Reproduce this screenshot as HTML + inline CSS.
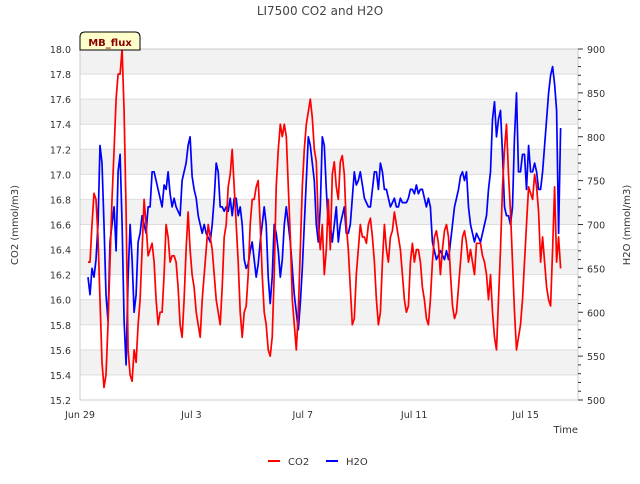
<!DOCTYPE html>
<html><head><meta charset="utf-8"><style>
body{margin:0;background:#fff;font-family:"DejaVu Sans","Liberation Sans",sans-serif}
svg text{font-family:"DejaVu Sans","Liberation Sans",sans-serif}
</style></head><body>
<svg id="chart" width="640" height="480" viewBox="0 0 640 480" xmlns="http://www.w3.org/2000/svg">
<text x="320" y="15" text-anchor="middle" font-size="12" fill="#444">LI7500 CO2 and H2O</text>
<g id="bands"></g>
<g id="grid"></g>
<rect x="80" y="49" width="498" height="351" fill="none" stroke="#ccc"/>
<g id="axes"></g>
<g id="series"></g>
<g>
<path d="M80,50 L80,37 Q80,32 85,32 L135,32 Q140,32 140,37 L140,50 Z" fill="#ffffcc" stroke="#000"/>
<text x="110" y="46" text-anchor="middle" font-size="10" font-weight="bold" fill="#8b0000">MB_flux</text>
</g>
<text transform="translate(18,225) rotate(-90)" text-anchor="middle" font-size="10" fill="#333">CO2 (mmol/m3)</text>
<text transform="translate(630,225) rotate(-90)" text-anchor="middle" font-size="10" fill="#333">H2O (mmol/m3)</text>
<text x="578" y="433" text-anchor="end" font-size="10" fill="#333">Time</text>
<g>
<line x1="268" y1="461" x2="280" y2="461" stroke="#f00" stroke-width="2"/>
<text x="288" y="465" font-size="10" fill="#333">CO2</text></g>
<g>
<line x1="326" y1="461" x2="338" y2="461" stroke="#00f" stroke-width="2"/>
<text x="346" y="465" font-size="10" fill="#333">H2O</text></g>
</svg>
<script>
const startDay = 0.288;
const stepDay = 0.0719;
const xTickLabels = ["Jun 29","Jul 3","Jul 7","Jul 11","Jul 15"];
const xTickDays = [0,4,8,12,16];
const co2Ticks = [15.2,15.4,15.6,15.8,16.0,16.2,16.4,16.6,16.8,17.0,17.2,17.4,17.6,17.8,18.0];
const h2oTicks = [500,550,600,650,700,750,800,850,900];
const co2Values = [16.3,16.3,16.6,16.85,16.8,16.5,16.0,15.5,15.3,15.4,15.8,16.3,16.8,17.2,17.6,17.8,17.8,18.0,17.5,16.7,15.6,15.4,15.35,15.6,15.5,15.8,16.0,16.4,16.8,16.6,16.35,16.4,16.45,16.3,16.0,15.8,15.9,15.9,16.2,16.6,16.5,16.3,16.35,16.35,16.3,16.1,
15.8,15.7,16.0,16.4,16.7,16.4,16.2,16.1,15.9,15.8,15.7,16.0,16.2,16.4,16.6,16.5,16.4,16.2,16.0,15.9,15.8,16.1,16.5,16.6,16.9,17.0,17.2,16.9,16.6,16.3,15.9,15.7,15.9,15.95,16.2,16.6,16.8,16.8,16.9,16.95,16.6,16.2,15.9,15.8,15.6,15.55,15.7,16.2,16.9,17.2,17.4,17.3,17.4,17.3,16.9,16.5,16.0,15.8,15.6,15.9,16.4,16.9,17.2,17.4,17.5,17.6,17.45,17.2,17.1,16.6,16.4,16.6,16.2,16.4,16.8,16.4,17.0,17.1,16.9,16.8,17.1,17.15,17.0,16.6,16.4,16.1,15.8,15.85,16.2,16.4,16.6,16.5,16.5,16.45,16.6,16.65,16.5,16.3,16.0,15.8,15.9,16.3,16.6,16.4,16.3,16.5,16.55,16.7,16.6,16.5,16.4,16.2,16.0,15.9,15.95,16.3,16.45,16.3,16.4,16.4,16.3,16.1,16.0,15.85,15.8,16.0,16.3,16.5,16.55,16.45,16.2,16.4,16.55,16.6,16.5,16.2,15.95,15.85,15.9,16.1,16.3,16.5,16.55,16.45,16.3,16.4,16.3,16.2,16.45,16.45,16.45,16.35,16.3,16.2,16.0,16.2,15.9,15.7,15.6,16.0,16.4,16.9,17.2,17.4,17.0,16.7,16.3,15.9,15.6,15.7,15.8,16.0,16.3,16.6,16.9,16.85,16.8,17.0,16.9,16.7,16.3,16.5,16.3,16.1,16.0,15.95,16.4,16.9,16.3,16.5,16.25];
const h2oValues = [640,620,650,640,660,700,790,770,700,620,590,680,700,720,670,760,780,700,590,540,640,700,660,600,620,680,690,710,700,690,720,720,760,760,750,740,730,720,745,740,760,735,720,730,720,715,710,750,760,770,790,800,755,740,730,710,700,690,700,690,685,680,700,730,770,760,720,720,715,720,715,730,710,730,730,710,720,700,660,650,655,670,680,660,640,655,680,700,720,700,640,610,640,700,690,670,640,660,700,720,700,680,650,620,600,580,610,650,700,750,800,790,770,750,700,680,720,800,790,740,700,700,680,700,720,680,700,710,720,690,690,700,730,760,745,750,760,745,730,725,720,720,740,760,760,740,770,760,740,740,730,720,725,730,720,720,730,725,725,725,730,740,740,735,745,735,740,740,730,720,730,720,680,670,660,665,670,665,660,670,660,680,700,720,730,740,755,760,750,760,720,700,690,680,690,685,680,690,700,710,740,760,820,840,800,820,830,780,720,710,710,700,720,800,850,760,760,780,780,740,790,760,760,770,760,740,740,760,790,820,850,870,880,860,830,690,810];

const NS="http://www.w3.org/2000/svg";
const X0=80,X1=578,YT=49,YB=400;
const pxPerDay=27.85;
function xScale(d){return X0+d*pxPerDay;}
function yCO2(v){return YB-(v-15.2)/(18.0-15.2)*(YB-YT);}
function yH2O(v){return YB-(v-500)/(900-500)*(YB-YT);}
function mk(tag,attrs,parent){const e=document.createElementNS(NS,tag);for(const k in attrs)e.setAttribute(k,attrs[k]);parent.appendChild(e);return e;}
const bands=document.getElementById('bands'),grid=document.getElementById('grid'),axes=document.getElementById('axes'),series=document.getElementById('series');
for(let i=0;i<co2Ticks.length-1;i++){
  if((co2Ticks.length-2-i)%2===0){
    const r=mk('rect',{x:X0,y:yCO2(co2Ticks[i+1]),width:X1-X0,height:yCO2(co2Ticks[i])-yCO2(co2Ticks[i+1]),fill:'#f2f2f2'},bands);
    
    
  }
}
co2Ticks.forEach(v=>{
  const y=yCO2(v);
  const l=mk('line',{x1:X0,x2:X1,y1:y,y2:y,stroke:'#ddd'},grid);
  
  
  const t=mk('text',{x:71,y:y+4,'text-anchor':'end','font-size':9.5,fill:'#333'},axes);
  t.textContent=v.toFixed(1);
  
  
});
for(let v=500;v<=900;v+=10){
  const y=yH2O(v);
  const l=mk('line',{x1:X1,x2:X1+(v%50===0?5:3),y1:y,y2:y,stroke:'#333'},axes);
  
  
}
h2oTicks.forEach(v=>{
  const t=mk('text',{x:587,y:yH2O(v)+4,'font-size':9.5,fill:'#333'},axes);
  t.textContent=v;
  
  
});
xTickDays.forEach((d,i)=>{
  const t=mk('text',{x:xScale(d),y:418,'text-anchor':'middle','font-size':9.5,fill:'#333'},axes);
  t.textContent=xTickLabels[i];
  
  
});
function path(vals,yf){return vals.map((v,i)=>(i?'L':'M')+xScale(startDay+i*stepDay).toFixed(1)+','+yf(v).toFixed(1)).join('');}
const pc=mk('path',{d:path(co2Values,yCO2),fill:'none',stroke:'#f00','stroke-width':1.7,'stroke-linejoin':'round'},series);


const ph=mk('path',{d:path(h2oValues,yH2O),fill:'none',stroke:'#00f','stroke-width':1.7,'stroke-linejoin':'round'},series);


series.appendChild(pc);
</script>
</body></html>
